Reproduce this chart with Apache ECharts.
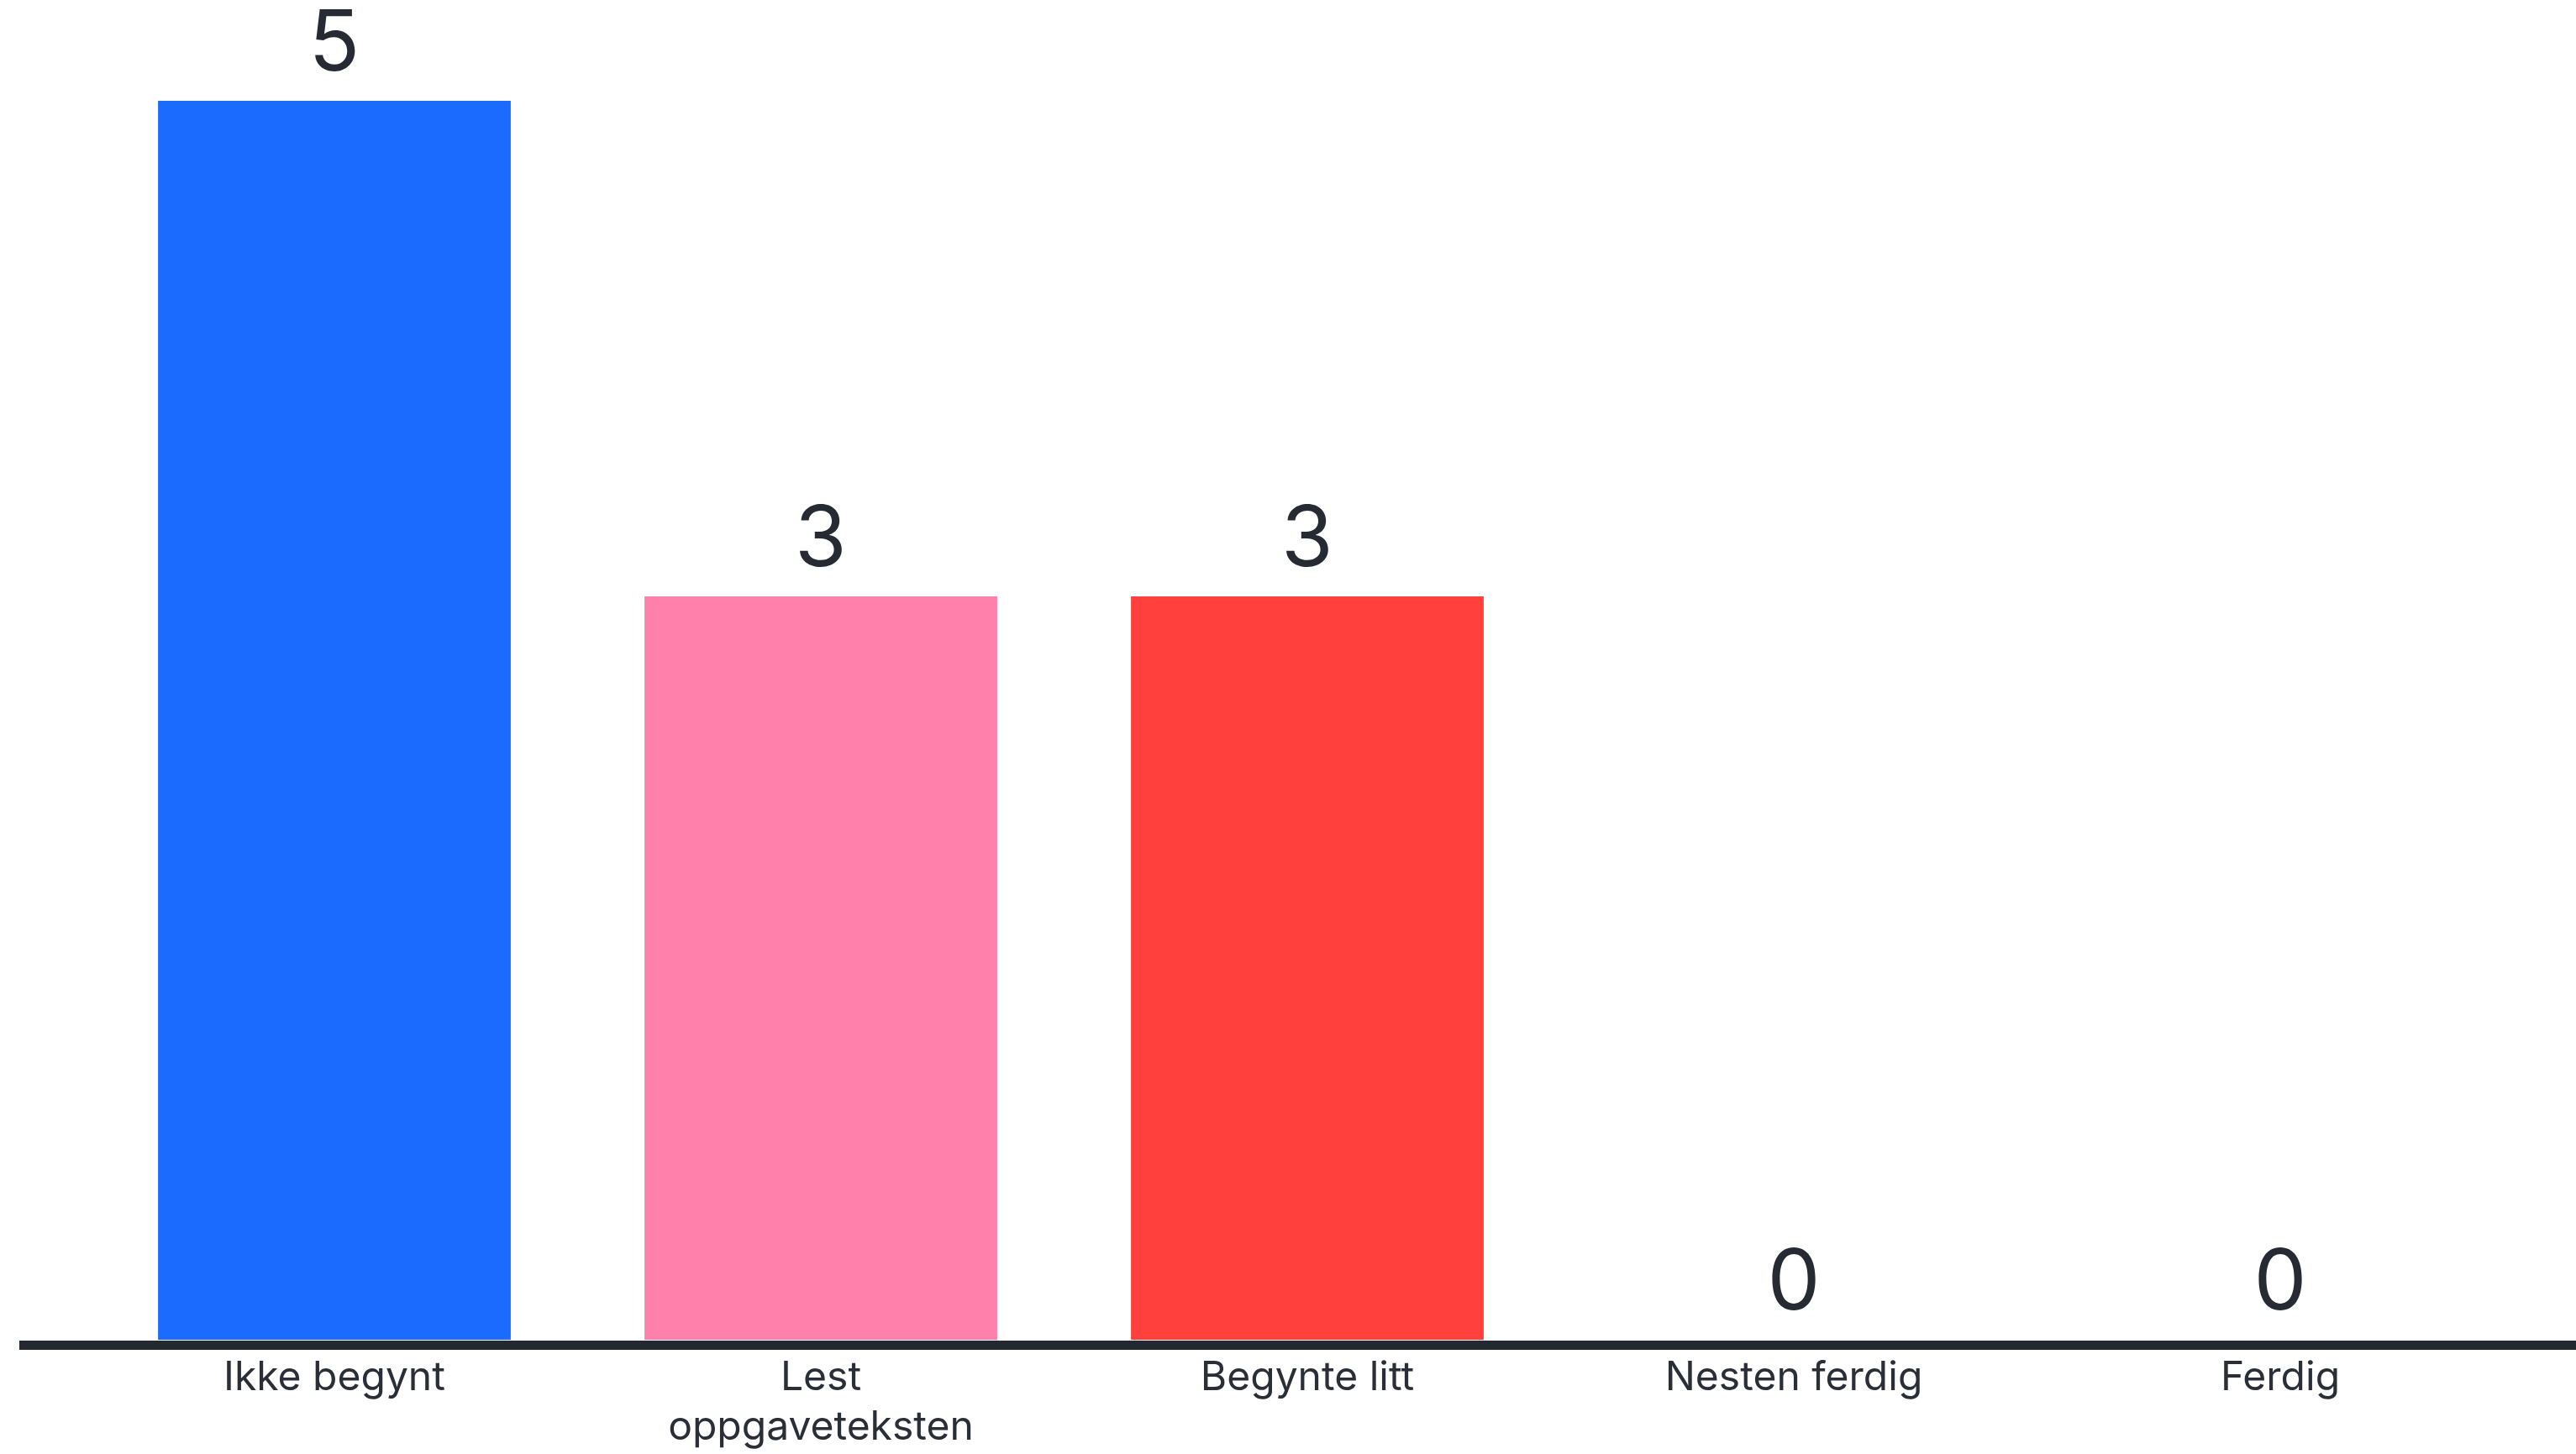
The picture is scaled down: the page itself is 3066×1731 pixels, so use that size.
<!DOCTYPE html>
<html>
<head>
<meta charset="utf-8">
<script src="https://cdn.jsdelivr.net/npm/echarts@6/dist/echarts.min.js"></script>
<style>
html,body{margin:0;padding:0;background:#fff;}
#c{width:3066px;height:1731px;}
</style>
</head>
<body>
<div id="c"></div>
<script>
const categories = ['Ikke begynt', 'Lest\noppgaveteksten', 'Begynte litt', 'Nesten ferdig', 'Ferdig'];
const values = [5, 3, 3, 0, 0];
const colors = ['#1b6bff', '#ff80aa', '#ff403d', '#6c9cff', '#9ad0ff'];

const chart = echarts.init(document.getElementById('c'), null, {renderer: 'canvas'});
const FONT = 'Inter';
chart.setOption({
  backgroundColor: '#ffffff',
  animation: false,
  grid: [
    {left: 108.5, right: 62.5, top: 120, bottom: 136},
    {left: 23, right: 0, top: 120, bottom: 130}
  ],
  xAxis: [
    {
      type: 'category', gridIndex: 0, data: categories,
      axisLine: {show: false}, axisTick: {show: false},
      axisLabel: {
        interval: 0, margin: 16, color: '#2a2e37', fontFamily: FONT,
        fontSize: 48, lineHeight: 59, fontWeight: 400
      }
    },
    {
      type: 'category', gridIndex: 1, data: [''],
      axisLine: {show: true, lineStyle: {color: '#232831', width: 11, cap: 'butt'}},
      axisTick: {show: false}, axisLabel: {show: false}
    }
  ],
  yAxis: [
    {type: 'value', gridIndex: 0, min: 0, max: 5, show: false},
    {type: 'value', gridIndex: 1, min: 0, max: 5, show: false}
  ],
  series: [{
    type: 'bar',
    xAxisIndex: 0, yAxisIndex: 0,
    barWidth: '72.5%',
    data: values.map((v, i) => ({value: v, itemStyle: {color: colors[i]}})),
    label: {
      show: true, position: 'top', distance: 16,
      color: '#262a33', fontFamily: FONT, fontSize: 100
    }
  }]
});
</script>
</body>
</html>
